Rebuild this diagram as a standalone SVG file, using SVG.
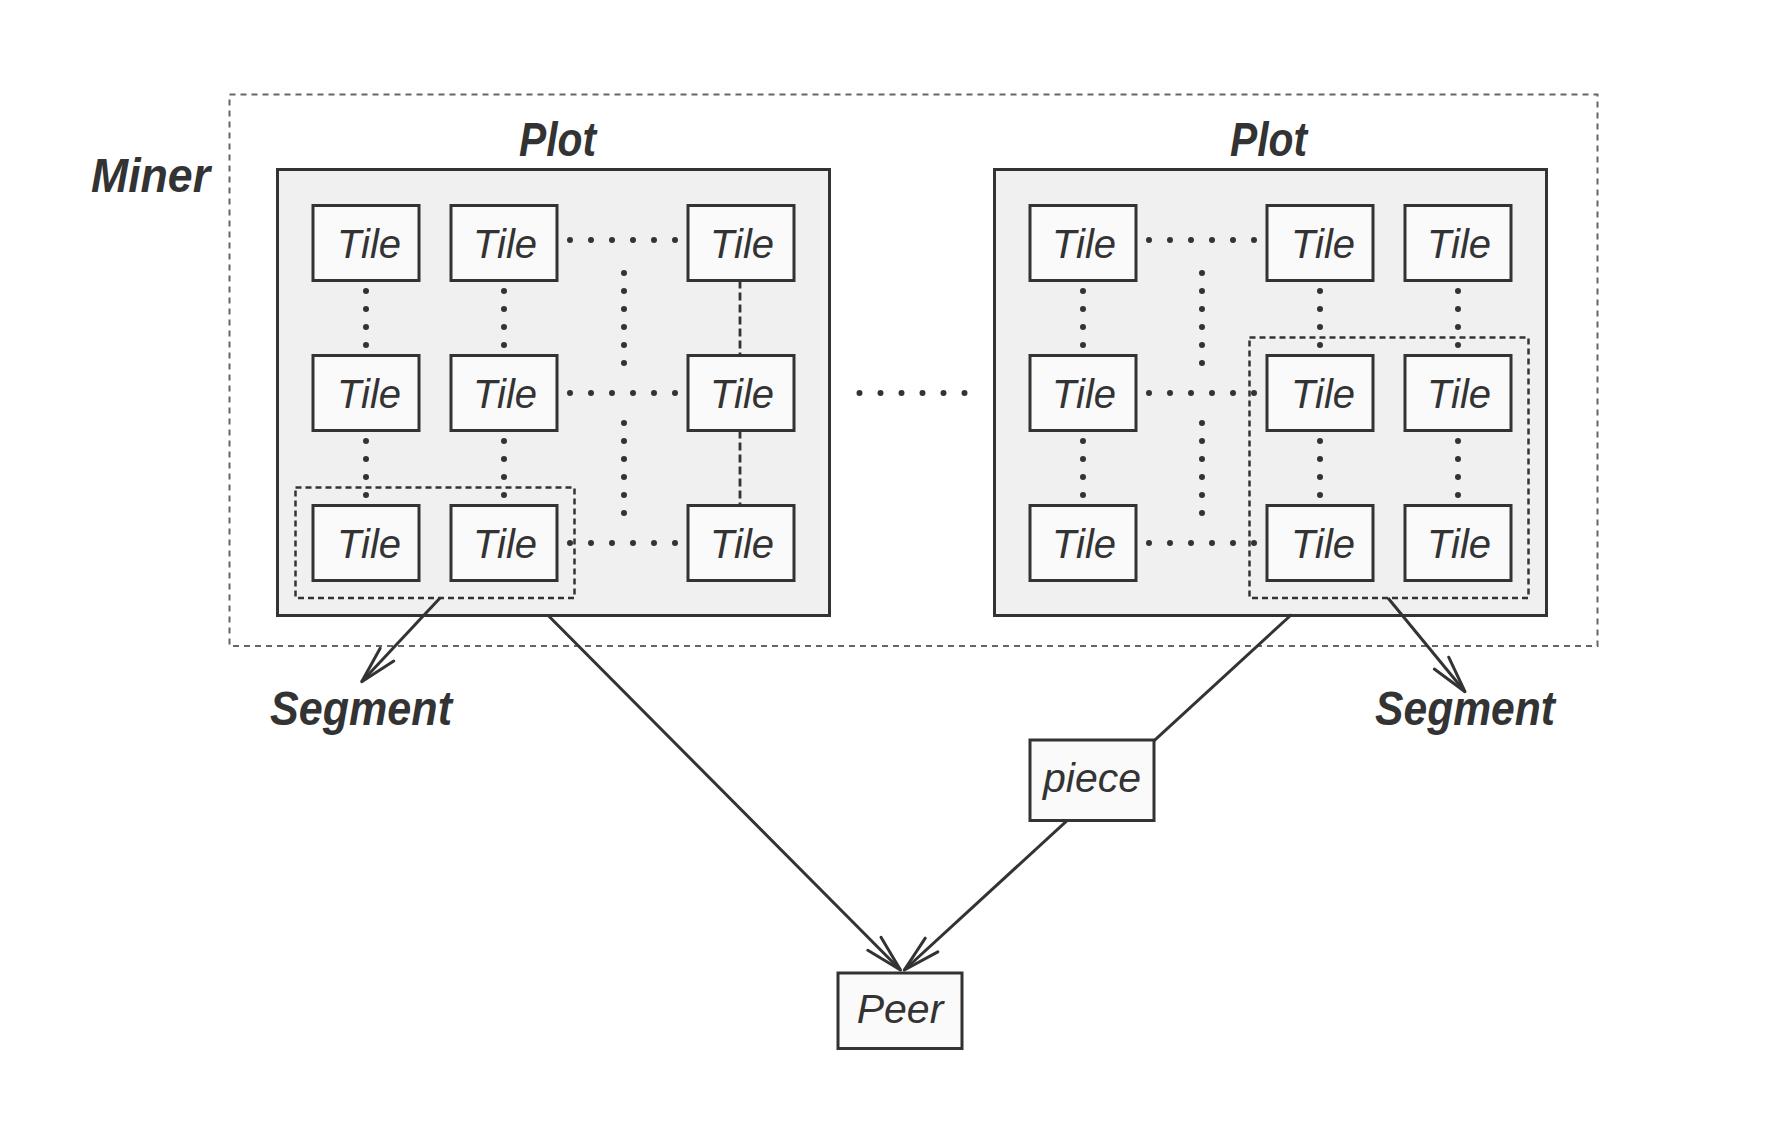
<svg xmlns="http://www.w3.org/2000/svg" width="1785" height="1140" viewBox="0 0 1785 1140">
<style>
.miner{fill:none;stroke:#666;stroke-width:2;stroke-dasharray:6 5}
.plot{fill:#f0f0f0;stroke:#333;stroke-width:3}
.tile{fill:#fafafa;stroke:#333;stroke-width:3}
.seg{fill:none;stroke:#333;stroke-width:2.5;stroke-dasharray:6 4}
.dh{fill:none;stroke:#333;stroke-width:6;stroke-linecap:round;stroke-dasharray:0 21}
.dv{fill:none;stroke:#333;stroke-width:6;stroke-linecap:round;stroke-dasharray:0 18}
.dash{fill:none;stroke:#333;stroke-width:2.8;stroke-dasharray:8 4}
.conn{fill:none;stroke:#333;stroke-width:3}
.t{font-family:"Liberation Sans",Arial,sans-serif;font-style:italic;font-size:40px;fill:#333;text-anchor:middle}
.lbl{font-family:"Liberation Sans",Arial,sans-serif;font-weight:bold;font-style:italic;font-size:48px;fill:#333}
</style>
<defs>
<marker id="arr" markerUnits="userSpaceOnUse" viewBox="-42 -14 46 28" refX="0" refY="0" markerWidth="46" markerHeight="28" orient="auto" overflow="visible">
<path d="M-37,-9.3 L0,0 L-37,9.3" fill="none" stroke="#333" stroke-width="3" stroke-linejoin="round" stroke-linecap="round"/>
</marker>
</defs>
<rect fill="#fff" x="0" y="0" width="1785" height="1140"/>

<g id="miner">
<rect class="miner" x="229.5" y="94.5" width="1368" height="551.5"/>
<text class="lbl" x="91" y="192" textLength="119" lengthAdjust="spacingAndGlyphs">Miner</text>
</g>

<g id="plot-left">
<text class="lbl" x="519" y="156" textLength="77" lengthAdjust="spacingAndGlyphs">Plot</text>
<rect class="plot" x="277.5" y="169.5" width="552" height="446"/>
</g>
<g id="plot-right">
<text class="lbl" x="1230" y="156" textLength="77" lengthAdjust="spacingAndGlyphs">Plot</text>
<rect class="plot" x="994.5" y="169.5" width="552" height="446"/>
</g>

<g id="tiles-left-links">
<path class="dh" d="M570,240H676M570,393H676M570,543H676"/>
<path class="dv" d="M366,291V346M366,441V496M504,291V346M504,441V496M624,273V364M624,423V514"/>
<path class="dash" d="M740,280.5V355.5M740,430.5V505.5"/>
</g>
<g id="tiles-right-links">
<path class="dh" d="M1149,240H1255M1149,393H1255M1149,543H1255"/>
<path class="dv" d="M1083,291V346M1083,441V496M1320,291V346M1320,441V496M1458,291V346M1458,441V496M1202,273V364M1202,423V514"/>
</g>
<g id="gap-dots">
<path class="dh" d="M859.5,393H966"/>
</g>

<g id="tile-l-1-1"><rect class="tile" x="313" y="205.5" width="106" height="75"/><text class="t" x="369" y="257.5">Tile</text></g>
<g id="tile-l-1-2"><rect class="tile" x="451" y="205.5" width="106" height="75"/><text class="t" x="505" y="257.5">Tile</text></g>
<g id="tile-l-1-3"><rect class="tile" x="688" y="205.5" width="106" height="75"/><text class="t" x="742" y="257.5">Tile</text></g>
<g id="tile-l-2-1"><rect class="tile" x="313" y="355.5" width="106" height="75"/><text class="t" x="369" y="407.5">Tile</text></g>
<g id="tile-l-2-2"><rect class="tile" x="451" y="355.5" width="106" height="75"/><text class="t" x="505" y="407.5">Tile</text></g>
<g id="tile-l-2-3"><rect class="tile" x="688" y="355.5" width="106" height="75"/><text class="t" x="742" y="407.5">Tile</text></g>
<g id="tile-l-3-1"><rect class="tile" x="313" y="505.5" width="106" height="75"/><text class="t" x="369" y="557.5">Tile</text></g>
<g id="tile-l-3-2"><rect class="tile" x="451" y="505.5" width="106" height="75"/><text class="t" x="505" y="557.5">Tile</text></g>
<g id="tile-l-3-3"><rect class="tile" x="688" y="505.5" width="106" height="75"/><text class="t" x="742" y="557.5">Tile</text></g>

<g id="tile-r-1-1"><rect class="tile" x="1030" y="205.5" width="106" height="75"/><text class="t" x="1084" y="257.5">Tile</text></g>
<g id="tile-r-1-2"><rect class="tile" x="1267" y="205.5" width="106" height="75"/><text class="t" x="1323" y="257.5">Tile</text></g>
<g id="tile-r-1-3"><rect class="tile" x="1405" y="205.5" width="106" height="75"/><text class="t" x="1459" y="257.5">Tile</text></g>
<g id="tile-r-2-1"><rect class="tile" x="1030" y="355.5" width="106" height="75"/><text class="t" x="1084" y="407.5">Tile</text></g>
<g id="tile-r-2-2"><rect class="tile" x="1267" y="355.5" width="106" height="75"/><text class="t" x="1323" y="407.5">Tile</text></g>
<g id="tile-r-2-3"><rect class="tile" x="1405" y="355.5" width="106" height="75"/><text class="t" x="1459" y="407.5">Tile</text></g>
<g id="tile-r-3-1"><rect class="tile" x="1030" y="505.5" width="106" height="75"/><text class="t" x="1084" y="557.5">Tile</text></g>
<g id="tile-r-3-2"><rect class="tile" x="1267" y="505.5" width="106" height="75"/><text class="t" x="1323" y="557.5">Tile</text></g>
<g id="tile-r-3-3"><rect class="tile" x="1405" y="505.5" width="106" height="75"/><text class="t" x="1459" y="557.5">Tile</text></g>

<g id="segment-left">
<rect class="seg" x="295.5" y="487.5" width="279" height="110.5"/>
<text class="lbl" x="270" y="725" textLength="182" lengthAdjust="spacingAndGlyphs">Segment</text>
</g>
<g id="segment-right">
<rect class="seg" x="1249.5" y="337.5" width="279" height="260.5"/>
<text class="lbl" x="1375" y="725" textLength="180" lengthAdjust="spacingAndGlyphs">Segment</text>
</g>

<g id="connectors">
<line class="conn" x1="440" y1="598" x2="361.7" y2="681.7" marker-end="url(#arr)"/>
<line class="conn" x1="1388" y1="598" x2="1465" y2="691.7" marker-end="url(#arr)"/>
<line class="conn" x1="547.7" y1="615" x2="900.5" y2="970" marker-end="url(#arr)"/>
<line class="conn" x1="1291.6" y1="614.5" x2="904.3" y2="970" marker-end="url(#arr)"/>
</g>

<g id="piece">
<rect class="tile" x="1030" y="740" width="124" height="80.5"/>
<text class="t" x="1092" y="791.5" style="font-size:41px">piece</text>
</g>
<g id="peer">
<rect class="tile" x="838" y="973" width="124" height="75.5"/>
<text class="t" x="900" y="1022.5" style="font-size:41px">Peer</text>
</g>
</svg>
